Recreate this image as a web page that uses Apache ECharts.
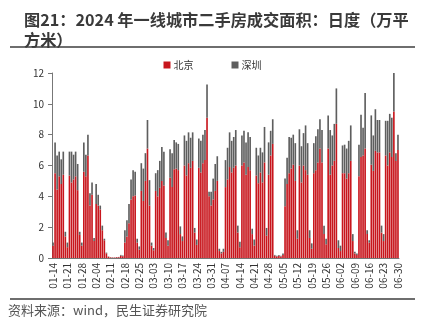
<!DOCTYPE html>
<html><head><meta charset="utf-8">
<script src="https://cdn.jsdelivr.net/npm/echarts@6/dist/echarts.min.js"></script>
<style>html,body{margin:0;padding:0;background:#fff}#c{width:425px;height:331px}</style>
</head><body><div id="c"></div>
<script>
// 2024-01-14 .. 2024-06-30 daily
const startDate = '2024-01-14';
const dayCount = 169;
const seriesNames = ['北京', '深圳'];
const yTicks = [0, 2, 4, 6, 8, 10, 12];
const beijing = [
0.8,5.5,4.45,5.3,4.8,5.4,1.4,0.7,5.35,4.9,5.1,5.3,4.4,1.5,0.8,5.6,5.3,6.65,3.4,4.1,
1.1,3.5,3.4,3.15,1.8,1.15,0.3,0.08,0.04,0.03,0.03,0.05,0.05,0.15,0.12,1.0,1.4,2.25,3.8,4.0,
4.05,1.0,0.55,4.35,3.7,5.0,7.1,3.4,0.8,0.5,4.35,4.0,4.55,5.0,4.7,1.3,0.8,5.2,4.6,5.75,
5.8,5.7,1.55,1.1,6.0,5.35,6.15,5.85,6.3,1.65,0.85,5.85,5.55,6.15,6.35,9.1,4.0,3.4,3.8,4.35,
5.0,0.45,0.3,0.4,4.6,5.1,5.9,5.55,5.85,6.0,1.65,0.7,6.0,6.2,5.4,5.9,5.7,1.55,0.8,5.35,
4.85,5.55,4.9,6.2,1.45,5.4,6.65,7.4,0.15,0.1,0.15,0.1,0.2,3.35,4.8,5.5,5.8,6.05,5.0,1.25,
6.0,4.9,6.0,5.7,5.4,1.3,0.6,5.5,5.7,6.2,7.1,6.2,1.55,0.9,7.1,5.4,6.0,6.3,8.7,0.65,
0.45,5.5,5.5,5.15,5.5,6.3,1.1,0.3,0.2,5.3,6.55,6.65,7.1,1.55,1.0,6.05,5.65,6.95,6.85,6.85,
1.65,1.1,6.65,6.0,6.85,6.55,9.5,6.3,7.0
];
const shenzhen = [
0.2,2.0,2.2,1.6,1.6,1.5,0.3,0.3,1.55,2.0,1.6,1.6,1.7,0.2,0.2,1.9,1.4,1.35,0.8,0.8,
0.2,1.3,0.7,0.25,0.3,0.1,0.05,0.02,0.01,0.01,0.01,0.01,0.02,0.05,0.05,0.8,1.05,1.25,1.3,1.7,
1.55,0.25,0.2,1.8,2.1,1.8,1.85,1.65,0.2,0.15,1.15,1.7,1.75,2.2,2.2,0.35,0.35,1.85,2.2,1.9,
1.7,1.7,0.5,0.3,1.95,2.25,2.0,1.95,1.85,0.3,0.35,1.9,2.05,1.85,1.95,2.15,0.3,0.9,1.35,1.75,
1.6,0.15,0.1,0.2,1.75,2.05,2.25,2.05,2.0,2.3,0.45,0.35,1.95,2.05,2.1,2.25,2.15,0.35,0.4,1.8,
1.8,1.6,1.95,2.3,0.5,2.1,1.6,1.6,0.05,0.05,0.05,0.05,0.1,1.8,1.7,2.35,2.0,1.95,2.45,0.55,
2.35,2.35,2.1,2.9,2.05,0.5,0.35,1.95,2.2,2.15,1.9,2.1,0.55,0.35,2.15,2.9,1.95,2.4,2.3,0.5,
0.35,1.8,1.85,1.95,2.1,2.3,0.45,0.1,0.1,2.05,2.75,1.8,3.6,0.25,0.15,3.2,2.3,2.7,2.1,2.1,
0.45,0.45,2.25,2.9,2.5,2.55,2.55,0.5,1.0
];
const categories = [];
(function(){
  const d0 = new Date(startDate + 'T00:00:00Z');
  for (let i = 0; i < dayCount; i++) {
    const d = new Date(d0.getTime() + i * 86400000);
    const m = String(d.getUTCMonth() + 1).padStart(2, '0');
    const dd = String(d.getUTCDate()).padStart(2, '0');
    categories.push(m + '-' + dd);
  }
})();

const chart = echarts.init(document.getElementById('c'), null, {renderer: 'canvas'});
const font = '"Noto Sans CJK SC", "Noto Sans", sans-serif';
chart.setOption({
  animation: false,
  backgroundColor: '#fff',
  title: {
    text: '图21：2024 年一线城市二手房成交面积：日度（万平\n方米）',
    left: 19, top: 5,
    textStyle: {fontFamily: font, fontSize: 16.2, fontWeight: 'bold', color: '#3a3a3a', lineHeight: 20}
  },
  graphic: [
    {type: 'line', shape: {x1: 10, y1: 47, x2: 415, y2: 47}, style: {stroke: '#6e6e6e', lineWidth: 2}},
    {type: 'line', shape: {x1: 10, y1: 299, x2: 415, y2: 299}, style: {stroke: '#6e6e6e', lineWidth: 2}},
    {type: 'text', left: 8, top: 304, style: {text: '资料来源：wind，民生证券研究院', font: '13px ' + font, fill: '#555'}}
  ],
  legend: {
    top: 55, left: 'center',
    itemWidth: 7, itemHeight: 7, itemGap: 38,
    icon: 'rect',
    textStyle: {fontFamily: font, fontSize: 10, color: '#333', padding: [0, 0, 0, -2]},
    data: seriesNames
  },
  grid: {left: 52, right: 26, top: 73, bottom: 73, containLabel: false},
  xAxis: {
    type: 'category',
    data: categories,
    boundaryGap: true,
    axisLine: {lineStyle: {color: '#777', width: 1}},
    axisTick: {interval: 6, length: 4, lineStyle: {color: '#777'}},
    axisLabel: {interval: 6, rotate: 90, fontFamily: font, fontSize: 10, color: '#333', margin: 5}
  },
  yAxis: {
    type: 'value',
    min: yTicks[0], max: yTicks[yTicks.length - 1], interval: 2,
    splitLine: {show: false},
    axisLine: {show: true, lineStyle: {color: '#777'}},
    axisTick: {show: true, inside: false, length: 4, lineStyle: {color: '#777'}},
    axisLabel: {fontFamily: font, fontSize: 10, color: '#333', margin: 8}
  },
  series: [
    {name: seriesNames[0], type: 'bar', stack: 'a', data: beijing, itemStyle: {color: '#C8161D'}, barCategoryGap: '20%'},
    {name: seriesNames[1], type: 'bar', stack: 'a', data: shenzhen, itemStyle: {color: '#5E5E5E'}, barCategoryGap: '20%'}
  ]
});
</script></body></html>
